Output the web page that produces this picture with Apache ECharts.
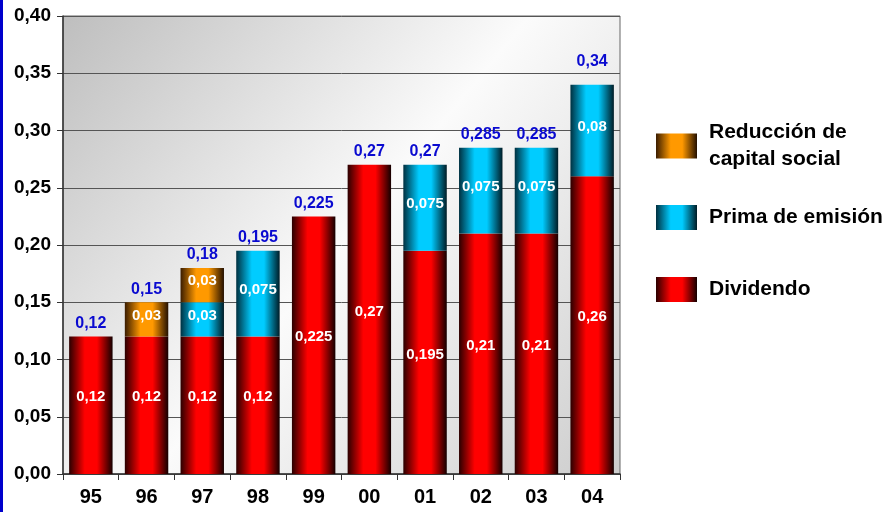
<!DOCTYPE html>
<html><head><meta charset="utf-8">
<script src="https://cdn.jsdelivr.net/npm/echarts@6/dist/echarts.min.js"></script>
<style>html,body{margin:0;padding:0;background:#fff}#c{width:889px;height:512px}</style>
</head><body><div id="c"></div>
<script>
const categories = ['95','96','97','98','99','00','01','02','03','04'];
const dividendo = [0.12,0.12,0.12,0.12,0.225,0.27,0.195,0.21,0.21,0.26];
const prima = [null,null,0.03,0.075,null,null,0.075,0.075,0.075,0.08];
const reduccion = [null,0.03,0.03,null,null,null,null,null,null,null];
const totals = [0.12,0.15,0.18,0.195,0.225,0.27,0.27,0.285,0.285,0.34];
const seriesNames = ['Dividendo','Prima de emisión','Reducción de capital social'];

function grad(dark1, mid, dark2){
  return new echarts.graphic.LinearGradient(0,0,1,0,[
    {offset:0,color:dark1},{offset:0.36,color:mid},{offset:0.64,color:mid},{offset:1,color:dark2}]);
}
const fmt = v => String(+v.toFixed(3)).replace('.', ',');
const F = 'Liberation Sans, Arial, sans-serif';
const innerLabel = {show:true, position:'inside', offset:[0,-8], color:'#fff', fontWeight:'bold', fontSize:15, fontFamily:F,
  formatter:p=>fmt(p.value)};

const chart = echarts.init(document.getElementById('c'));
function legendFor(name, top){
  return {data:[name], left:651, top:top, orient:'vertical', itemWidth:41, itemHeight:25, itemGap:10,
    selectedMode:false, icon:'rect',
    textStyle:{fontSize:21, fontWeight:'bold', color:'#000', fontFamily:F, padding:[0,0,0,7], lineHeight:27},
    formatter: n => n === seriesNames[2] ? 'Reducción de\ncapital social' : n};
}
const totalData = totals.map((v,i)=> i === totals.length-1 ? {value:v, label:{offset:[0,-10]}} : v);
chart.setOption({
  animation:false,
  graphic:[{type:'rect', shape:{x:0,y:0,width:3,height:512}, style:{fill:'#0000cc'}}],
  legend:[legendFor(seriesNames[2],114), legendFor(seriesNames[1],199), legendFor(seriesNames[0],271)],
  grid:{left:63, top:16, right:269, bottom:38, show:true, borderColor:'#666', borderWidth:1,
    backgroundColor:new echarts.graphic.LinearGradient(0,0,1,1,[
      {offset:0,color:'#bebebe'},{offset:0.5,color:'#fbfbfb'},{offset:1,color:'#cccccc'}])},
  xAxis:{type:'category', data:categories,
    axisLine:{lineStyle:{color:'#333', width:1.5}},
    axisTick:{show:true, length:6, lineStyle:{color:'#333'}},
    axisLabel:{color:'#000', fontWeight:'bold', fontSize:20, fontFamily:F, margin:13}},
  yAxis:{type:'value', min:0, max:0.4, interval:0.05,
    axisLine:{show:true, lineStyle:{color:'#333', width:1.5}},
    axisTick:{show:true, length:6, lineStyle:{color:'#333'}},
    splitLine:{lineStyle:{color:'#555', width:1}},
    axisLabel:{color:'#000', fontWeight:'bold', fontSize:19, fontFamily:F, margin:12,
      formatter:v=>v.toFixed(2).replace('.', ',')}},
  series:[
    {name:seriesNames[0], type:'bar', stack:'a', data:dividendo, barCategoryGap:'22%',
      itemStyle:{color:grad('#2a0000','#ff0000','#140000')}, label:innerLabel},
    {name:seriesNames[1], type:'bar', stack:'a', data:prima,
      itemStyle:{color:grad('#003040','#00ccff','#001c26')}, label:{...innerLabel, offset:[0,-4]}},
    {name:seriesNames[2], type:'bar', stack:'a', data:reduccion,
      itemStyle:{color:grad('#3a1c00','#ff9900','#241000')}, label:{...innerLabel, offset:[0,-4]}},
    {name:'total', type:'bar', data:totalData, barGap:'-100%', z:1,
      itemStyle:{color:'rgba(0,0,0,0)'},
      label:{show:true, position:'top', distance:5, color:'#0a0ad0', fontWeight:'bold', fontSize:16, fontFamily:F,
        formatter:p=>fmt(p.value)}}
  ]
});
</script></body></html>
